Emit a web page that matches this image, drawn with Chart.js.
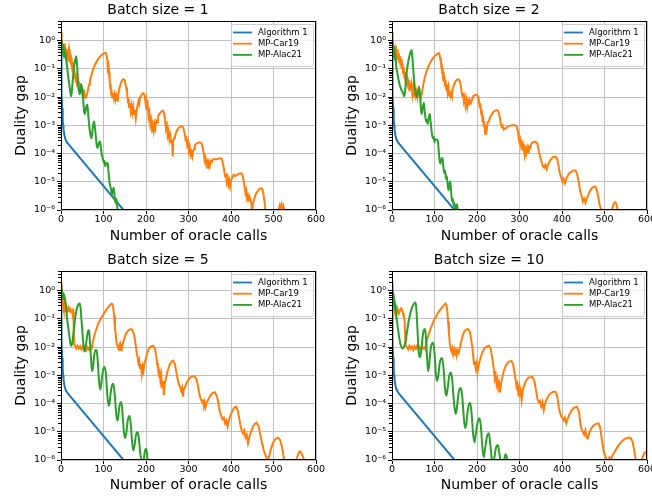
<!DOCTYPE html>
<html>
<head>
<meta charset="utf-8">
<script src="https://cdn.jsdelivr.net/npm/chart.js@4/dist/chart.umd.min.js"></script>
<style>
  body { margin: 0; background: #fff; overflow: hidden; }
  canvas { position: absolute; }
</style>
</head>
<body>
<canvas id="c1" width="326" height="248" style="left:0;top:0"></canvas>
<canvas id="c2" width="321" height="248" style="left:331px;top:0"></canvas>
<canvas id="c3" width="326" height="247" style="left:0;top:250px"></canvas>
<canvas id="c4" width="321" height="247" style="left:331px;top:250px"></canvas>
<script>
// values are [oracle calls, log10(duality gap)]
const batchSizes = [1, 2, 5, 10];
const seriesNames = ['Algorithm 1', 'MP-Car19', 'MP-Alac21'];
const xTicks = [0, 100, 200, 300, 400, 500, 600];
const yTicks = [1e-6, 1e-5, 1e-4, 1e-3, 1e-2, 1e-1, 1e0];

// Algorithm 1 looks the same in all four panels
const alg1Log = [[0,0.0],[0.5,-0.5],[1,-1.2],[2,-1.9],[3,-2.4],[4,-2.8],[5,-3.0],[6,-3.15],[8,-3.35],[10,-3.47],[12,-3.55],[15,-3.62],[150,-6.05]];

const car19LogB1 = [[0,0.3],[1,-0.1],[2,-0.4],[3,-0.15],[4,-0.5],[5,-0.2],[6,-0.55],[7,-0.3],[8,-0.1],[9,-0.45],[10,-0.25],[11,-0.6],[12,-0.3],[13,-0.55],[14,-0.35],[15,-0.6],[16,-0.4],[17,-0.7],[18,-0.45],[19,-0.3],[20,-0.5],[21,-0.35],[22,-0.75],[23,-0.5],[24,-0.85],[25,-0.6],[26,-0.95],[27,-0.75],[28,-1.1],[29,-0.9],[30,-1.25],[31,-1.05],[32,-1.35],[34,-1.15],[35,-1.5],[36,-1.3],[38,-1.6],[39,-1.35],[41,-1.7],[42,-1.45],[44,-1.75],[45,-1.5],[47,-1.85],[48,-1.6],[50,-1.9],[51,-1.7],[53,-1.95],[54,-1.75],[56,-2.0],[58,-2.03],[60,-1.95],[62,-1.85],[64,-1.7],[66,-1.55],[68,-1.42],[70,-1.3],[73,-1.15],[76,-1.0],[80,-0.85],[84,-0.74],[88,-0.64],[92,-0.56],[96,-0.5],[100,-0.46],[103,-0.44],[105,-0.43],[107,-0.5],[109,-0.7],
  [110,-0.95],[111,-0.9],[112,-1.2],[113,-1.1],[114,-1.45],[115,-1.35],[116,-1.7],[117,-1.55],[118,-1.9],[119,-1.75],[120,-2.0],[122,-1.85],[124,-2.05],[126,-1.9],[128,-2.1],[130,-1.95],[132,-2.12],[134,-1.95],[136,-1.8],[138,-1.65],[141,-1.5],[144,-1.4],[147,-1.36],[150,-1.4],[152,-1.55],[154,-1.75],[155,-1.65],[156,-1.95],[158,-2.2],[159,-2.05],[160,-2.35],[162,-2.2],[164,-2.5],[166,-2.3],[168,-2.55],[170,-2.35],[172,-2.6],[174,-2.45],[176,-2.75],[178,-2.5],[180,-2.3],[182,-2.15],[184,-2.25],[186,-2.0],[188,-1.95],[191,-1.88],[194,-1.86],[197,-1.95],[199,-2.2],[200,-2.1],[202,-2.45],[204,-2.3],[206,-2.7],[208,-2.55],[210,-2.95],[212,-2.8],[214,-3.25],[216,-3.0],[218,-3.2],[220,-2.95],[222,-3.1],[224,-2.85],[226,-2.9],[228,-2.7],[231,-2.6],[234,-2.55],[237,-2.5],[240,-2.48],[243,-2.6],[245,-2.85],[247,-3.1],[249,-3.0],[251,-3.35],[253,-3.2],[255,-3.5],[257,-3.35],[259,-3.6],[261,-3.5],[263,-4.1],[264,-3.55],[266,-3.45],[268,-3.4],[271,-3.25],[274,-3.15],[277,-3.08],[281,-3.04],[285,-3.03],[288,-3.1],[291,-3.3],[293,-3.5],[295,-3.45],[297,-3.7],[299,-3.6],[301,-3.9],[303,-3.8],[305,-4.05],[307,-3.95],[309,-4.1],[311,-3.9],[313,-3.85],[315,-3.7],[318,-3.65],[322,-3.62],[326,-3.6],[330,-3.62],[333,-3.75],[336,-4.0],[338,-4.25],[340,-4.15],[342,-4.4],[344,-4.3],[346,-4.5],[348,-4.35],[350,-4.45],[352,-4.25],[355,-4.3],[358,-4.2],[362,-4.2],[366,-4.2],[370,-4.18],[374,-4.17],[378,-4.18],[381,-4.35],[384,-4.6],[386,-4.8],[388,-4.7],[390,-5.0],[392,-4.85],[394,-5.1],[396,-4.95],[398,-5.15],[400,-4.95],[403,-4.85],[406,-4.75],[410,-4.8],[414,-4.75],[418,-4.72],[422,-4.7],[426,-4.72],[429,-4.9],[432,-5.2],[434,-5.4],[436,-5.3],[438,-5.6],[440,-5.5],[442,-5.7],[444,-5.55],[446,-5.65],[448,-5.8],[450,-6.05],[452,-5.75],[455,-5.6],[458,-5.45],[462,-5.35],[466,-5.26],[470,-5.23],[473,-5.25],[476,-5.4],[479,-5.7],[481,-6.0],[483,-6.2],[490,-6.5],[505,-6.4],[512,-6.0],[515,-5.82],[517,-5.9],[519,-5.8],[521,-5.95],[523,-5.85],[526,-6.0],[530,-6.2]];

const alac21LogB1 = [[0,0.3],[1,-0.25],[2,0.0],[3,-0.45],[4,-0.1],[5,-0.5],[6,-0.2],[7,-0.6],[8,-0.3],[9,-0.55],[10,-0.4],[12,-0.65],[14,-0.9],[16,-1.15],[18,-1.4],[20,-1.6],[22,-1.85],[24,-1.97],[26,-1.7],[28,-1.35],[30,-1.0],[32,-0.8],[34,-0.65],[36,-0.55],[38,-0.9],[40,-1.45],[42,-1.75],[44,-1.9],[46,-1.7],[48,-1.55],[50,-1.75],[52,-2.05],[54,-2.45],[56,-2.6],[58,-2.45],[60,-2.3],[62,-2.27],[64,-2.6],[66,-2.95],[68,-3.2],[70,-3.4],[72,-3.45],[74,-3.2],[76,-2.95],[78,-2.86],[80,-3.1],[82,-3.4],[84,-3.7],[86,-3.8],[88,-3.7],[90,-3.6],[92,-3.57],[94,-3.8],[96,-4.05],[98,-4.16],[100,-4.3],[102,-4.25],[104,-4.45],[106,-4.35],[108,-4.33],[110,-4.35],[112,-4.7],[114,-5.0],[116,-5.15],[118,-5.3],[120,-5.45],[122,-5.3],[124,-5.2],[126,-5.5],[128,-5.75],[130,-5.6],[132,-5.85],[134,-6.1],[136,-6.3]];

const car19LogB2 = [[0,0.3],[1,-0.3],[2,-0.05],[3,-0.5],[4,-0.2],[5,-0.55],[6,-0.3],[7,-0.45],[8,-0.2],[9,-0.6],[10,-0.35],[12,-0.55],[13,-0.3],[14,-0.7],[16,-0.45],[17,-0.8],[19,-0.55],[20,-0.9],[22,-0.65],[23,-1.0],[25,-0.8],[26,-1.15],[28,-0.95],[29,-1.35],[31,-1.1],[32,-1.5],[34,-1.2],[35,-1.6],[37,-1.3],[38,-1.7],[40,-1.4],[41,-1.8],[43,-1.5],[44,-1.75],[46,-1.55],[48,-1.9],[50,-1.65],[52,-1.95],[54,-1.7],[56,-1.95],[58,-1.8],[60,-2.0],[62,-1.75],[63,-1.6],[64,-1.95],[66,-2.0],[68,-2.02],[70,-1.9],[72,-1.7],[75,-1.45],[78,-1.25],[82,-1.05],[86,-0.9],[90,-0.78],[94,-0.67],[98,-0.58],[102,-0.52],[106,-0.47],[110,-0.44],[112,-0.5],[114,-0.7],[115,-0.6],[116,-0.95],[117,-0.8],[118,-1.15],[119,-0.95],[120,-1.3],[121,-1.1],[122,-1.45],[123,-1.25],[125,-1.6],[126,-1.4],[128,-1.75],[129,-1.55],[131,-1.85],[133,-1.65],[135,-1.95],[137,-2.0],[139,-1.85],[141,-1.95],[143,-1.7],[146,-1.55],[149,-1.45],[153,-1.38],[157,-1.37],[160,-1.45],[163,-1.7],[165,-1.95],[167,-1.85],[169,-2.15],[171,-2.0],[173,-2.3],[175,-2.1],[177,-2.35],[179,-2.15],[181,-2.3],[183,-2.1],[186,-2.2],[189,-2.05],[192,-1.95],[196,-1.92],[200,-1.91],[203,-2.0],[205,-2.2],[207,-2.4],[208,-2.25],[210,-2.6],[211,-2.45],[213,-2.85],[214,-2.65],[216,-3.05],[217,-2.85],[219,-3.3],[221,-3.0],[223,-3.15],[225,-2.9],[228,-2.85],[231,-2.7],[235,-2.6],[240,-2.5],[244,-2.47],[248,-2.46],[251,-2.55],[254,-2.75],[256,-2.95],[258,-3.05],[260,-3.0],[263,-3.15],[266,-3.1],[269,-3.1],[272,-3.05],[276,-3.02],[280,-3.0],[285,-2.99],[290,-3.0],[293,-3.02],[296,-3.2],[298,-3.45],[300,-3.6],[302,-3.5],[304,-3.75],[306,-3.65],[308,-3.9],[310,-3.75],[312,-4.05],[314,-3.85],[316,-4.0],[318,-3.8],[320,-3.95],[322,-3.75],[325,-3.8],[328,-3.65],[332,-3.6],[338,-3.58],[342,-3.65],[346,-3.95],[349,-4.15],[352,-4.3],[355,-4.45],[358,-4.5],[361,-4.4],[364,-4.55],[367,-4.4],[370,-4.3],[374,-4.2],[379,-4.12],[385,-4.11],[389,-4.2],[392,-4.45],[395,-4.7],[398,-4.85],[401,-5.0],[404,-4.9],[407,-5.05],[410,-4.9],[413,-4.8],[417,-4.7],[422,-4.65],[427,-4.6],[432,-4.6],[436,-4.75],[440,-5.05],[443,-5.35],[446,-5.5],[449,-5.7],[452,-5.6],[455,-5.75],[458,-5.6],[461,-5.5],[465,-5.35],[470,-5.22],[475,-5.18],[479,-5.18],[483,-5.35],[486,-5.6],[489,-5.85],[492,-5.95],[495,-6.0],[498,-6.1],[502,-6.4],[512,-6.3],[518,-5.95],[521,-5.8],[524,-5.72],[527,-5.75],[530,-5.9],[533,-6.1],[536,-6.3]];

const alac21LogB2 = [[0,0.3],[1,-0.3],[2,0.0],[3,-0.5],[4,-0.15],[5,-0.6],[6,-0.3],[7,-0.7],[8,-0.5],[10,-0.9],[12,-1.1],[15,-1.35],[18,-1.56],[21,-1.7],[24,-1.8],[27,-1.9],[29,-1.97],[31,-1.75],[34,-1.2],[37,-0.85],[40,-0.6],[43,-0.44],[46,-0.33],[48,-0.6],[50,-1.0],[52,-1.4],[55,-1.8],[58,-2.0],[60,-1.9],[62,-1.75],[64,-1.65],[66,-1.9],[68,-2.4],[70,-2.6],[72,-2.4],[75,-2.2],[77,-2.5],[80,-2.86],[82,-2.8],[84,-2.95],[86,-2.75],[89,-2.6],[91,-2.9],[94,-3.3],[96,-3.45],[98,-3.4],[100,-3.6],[102,-3.5],[105,-3.5],[108,-3.57],[110,-3.9],[112,-4.25],[114,-4.35],[116,-4.2],[119,-4.16],[121,-4.5],[123,-4.69],[125,-4.6],[127,-4.9],[129,-4.8],[131,-5.1],[133,-5.3],[135,-5.1],[137,-4.98],[139,-5.3],[141,-5.69],[143,-5.6],[145,-5.85],[147,-5.75],[149,-6.05],[151,-5.9],[153,-5.8],[155,-6.05],[157,-6.3]];

const car19LogB5 = [[0,0.3],[1,-0.3],[2,-0.1],[3,-0.5],[4,-0.25],[5,-0.6],[6,-0.4],[7,-0.7],[8,-0.55],[9,-0.75],[10,-0.6],[12,-0.7],[14,-0.62],[16,-0.72],[18,-0.6],[20,-0.7],[22,-0.65],[24,-0.75],[26,-0.7],[28,-0.8],[29,-0.75],[30,-1.3],[31,-1.9],[33,-1.95],[36,-2.05],[39,-1.95],[42,-2.05],[45,-1.97],[48,-2.08],[51,-1.98],[54,-2.05],[57,-1.95],[60,-2.1],[63,-2.0],[66,-2.08],[69,-2.0],[72,-2.05],[74,-1.9],[76,-1.75],[80,-1.5],[84,-1.33],[88,-1.15],[92,-1.04],[96,-0.92],[100,-0.83],[104,-0.73],[108,-0.65],[112,-0.56],[116,-0.5],[119,-0.46],[121,-0.47],[123,-0.6],[125,-0.9],[127,-1.3],[129,-1.6],[131,-1.87],[133,-1.95],[135,-2.05],[137,-1.95],[139,-2.1],[141,-1.95],[143,-2.05],[145,-1.9],[148,-1.75],[152,-1.55],[156,-1.45],[161,-1.38],[166,-1.36],[170,-1.45],[173,-1.65],[176,-1.95],[178,-2.2],[180,-2.35],[182,-2.55],[184,-2.45],[186,-2.75],[188,-2.6],[190,-2.95],[192,-2.7],[194,-2.85],[196,-2.6],[199,-2.45],[203,-2.2],[207,-2.05],[212,-1.97],[217,-1.95],[221,-2.05],[224,-2.3],[226,-2.55],[228,-2.75],[230,-2.95],[232,-2.85],[234,-3.2],[236,-3.0],[238,-3.45],[240,-3.2],[242,-3.7],[244,-3.3],[247,-3.1],[251,-2.85],[255,-2.65],[260,-2.52],[264,-2.48],[268,-2.6],[271,-2.85],[274,-3.1],[277,-3.3],[280,-3.4],[283,-3.55],[285,-3.45],[287,-3.75],[289,-3.5],[292,-3.4],[296,-3.25],[301,-3.12],[307,-3.05],[314,-3.02],[319,-3.15],[323,-3.45],[326,-3.7],[329,-3.85],[332,-3.95],[334,-3.85],[336,-4.1],[338,-3.95],[340,-4.13],[343,-3.95],[347,-3.85],[352,-3.7],[357,-3.62],[362,-3.6],[367,-3.75],[371,-4.05],[374,-4.3],[377,-4.45],[380,-4.55],[383,-4.5],[386,-4.7],[389,-4.6],[392,-4.82],[395,-4.6],[398,-4.45],[402,-4.3],[407,-4.15],[412,-4.11],[416,-4.25],[419,-4.5],[422,-4.75],[425,-4.95],[428,-5.05],[431,-4.95],[434,-5.2],[437,-5.1],[440,-5.41],[443,-5.2],[447,-5.0],[452,-4.8],[456,-4.72],[460,-4.68],[465,-4.8],[469,-5.1],[473,-5.4],[476,-5.6],[479,-5.75],[482,-5.85],[485,-6.0],[488,-5.95],[491,-5.8],[495,-5.55],[500,-5.35],[505,-5.25],[511,-5.21],[516,-5.3],[520,-5.55],[523,-5.8],[526,-6.05],[529,-6.4],[545,-6.5],[553,-6.0],[557,-5.85],[560,-5.72],[563,-5.7],[567,-5.8],[571,-5.95],[574,-6.1],[577,-6.4]];

const alac21LogB5 = [[0,0.3],[1,-0.1],[2,0.1],[3,-0.2],[4,-0.05],[5,-0.3],[6,-0.1],[8,-0.2],[10,-0.35],[12,-0.6],[14,-0.95],[17,-1.3],[20,-1.65],[23,-1.92],[25,-1.95],[27,-1.8],[30,-1.4],[33,-1.0],[37,-0.65],[41,-0.48],[44,-0.45],[46,-0.6],[48,-1.0],[51,-1.6],[54,-2.1],[56,-2.15],[58,-2.0],[61,-1.65],[64,-1.4],[66,-1.42],[68,-1.8],[71,-2.5],[73,-2.85],[75,-2.75],[78,-2.3],[81,-2.1],[84,-2.12],[86,-2.4],[89,-3.1],[92,-3.5],[94,-3.4],[97,-3.0],[100,-2.75],[103,-2.7],[106,-3.0],[109,-3.7],[112,-4.08],[114,-4.0],[117,-3.6],[120,-3.35],[123,-3.3],[126,-3.6],[129,-4.2],[132,-4.6],[134,-4.55],[137,-4.15],[140,-3.95],[142,-3.95],[145,-4.4],[148,-5.0],[151,-5.22],[154,-5.0],[157,-4.6],[161,-4.44],[164,-4.7],[167,-5.3],[170,-5.66],[173,-5.5],[176,-5.15],[180,-5.02],[183,-5.2],[186,-5.7],[189,-6.0],[192,-6.1],[195,-5.95],[198,-5.65],[201,-5.6],[203,-5.9],[205,-6.3]];

const car19LogB10 = [[0,0.3],[1,-0.35],[2,-0.1],[3,-0.55],[4,-0.3],[5,-0.65],[6,-0.4],[7,-0.75],[8,-0.55],[9,-0.8],[10,-0.7],[12,-0.78],[14,-0.7],[16,-0.8],[18,-0.72],[20,-0.65],[22,-0.62],[24,-0.7],[26,-0.8],[28,-0.95],[30,-1.1],[31,-1.6],[32,-1.95],[35,-2.0],[38,-2.08],[41,-1.95],[44,-2.05],[47,-1.98],[50,-2.1],[53,-1.97],[56,-2.05],[59,-1.95],[62,-2.08],[65,-2.0],[68,-2.1],[71,-1.98],[74,-2.05],[77,-2.0],[79,-2.08],[81,-1.85],[84,-1.65],[87,-1.51],[91,-1.33],[95,-1.18],[99,-1.04],[103,-0.93],[107,-0.82],[111,-0.72],[115,-0.64],[119,-0.57],[123,-0.5],[126,-0.45],[128,-0.5],[130,-0.7],[132,-1.1],[134,-1.5],[136,-1.85],[138,-2.04],[140,-2.15],[142,-2.05],[144,-2.25],[146,-2.1],[148,-2.3],[150,-2.15],[152,-2.3],[154,-2.1],[157,-2.2],[160,-2.0],[163,-1.8],[166,-1.6],[170,-1.45],[175,-1.37],[179,-1.36],[183,-1.45],[186,-1.7],[189,-2.0],[191,-2.3],[193,-2.6],[195,-2.5],[197,-2.75],[199,-2.6],[201,-2.9],[203,-2.7],[205,-2.55],[208,-2.4],[212,-2.2],[217,-2.05],[222,-1.98],[228,-1.95],[232,-2.05],[235,-2.3],[238,-2.6],[240,-2.85],[242,-3.1],[244,-3.0],[246,-3.3],[248,-3.15],[250,-3.45],[252,-3.3],[254,-3.6],[256,-3.35],[259,-3.1],[263,-2.85],[268,-2.65],[274,-2.52],[281,-2.49],[285,-2.6],[288,-2.9],[291,-3.15],[293,-3.4],[295,-3.3],[297,-3.6],[299,-3.45],[301,-3.75],[303,-3.55],[305,-3.87],[307,-3.6],[310,-3.4],[315,-3.2],[321,-3.08],[330,-3.05],[335,-3.2],[339,-3.55],[342,-3.8],[345,-3.95],[348,-3.9],[351,-4.1],[354,-3.95],[357,-4.23],[360,-4.0],[364,-3.85],[369,-3.7],[375,-3.62],[380,-3.58],[385,-3.58],[389,-3.75],[392,-4.1],[395,-4.3],[398,-4.45],[401,-4.5],[404,-4.6],[407,-4.5],[410,-4.7],[413,-4.55],[417,-4.4],[422,-4.25],[428,-4.15],[435,-4.11],[440,-4.3],[443,-4.7],[446,-4.9],[449,-5.0],[452,-5.1],[455,-4.95],[458,-5.2],[461,-5.23],[464,-5.05],[468,-4.9],[474,-4.78],[480,-4.72],[486,-4.7],[490,-4.85],[494,-5.3],[497,-5.6],[500,-5.8],[503,-5.9],[506,-6.0],[509,-6.05],[512,-5.9],[516,-5.95],[520,-5.8],[526,-5.65],[532,-5.5],[540,-5.35],[548,-5.25],[555,-5.21],[561,-5.21],[566,-5.35],[570,-5.65],[573,-5.95],[576,-6.2],[582,-6.4],[588,-6.0],[591,-5.85],[594,-5.75],[597,-5.72],[600,-5.75]];

const alac21LogB10 = [[0,0.3],[1,-0.2],[2,0.05],[3,-0.4],[4,-0.1],[5,-0.55],[6,-0.3],[7,-0.7],[8,-0.45],[10,-0.85],[12,-1.1],[15,-1.45],[18,-1.75],[21,-1.95],[25,-2.05],[28,-2.0],[31,-1.85],[35,-1.5],[39,-1.1],[43,-0.8],[47,-0.6],[51,-0.48],[55,-0.42],[57,-0.6],[59,-1.1],[61,-1.7],[63,-2.2],[66,-2.36],[69,-2.1],[72,-1.65],[75,-1.4],[78,-1.36],[80,-1.7],[83,-2.5],[85,-2.85],[87,-2.7],[90,-2.2],[93,-1.9],[97,-1.84],[100,-2.2],[103,-2.9],[106,-3.2],[109,-3.0],[112,-2.6],[115,-2.42],[118,-2.39],[121,-2.7],[125,-3.5],[128,-3.72],[131,-3.45],[135,-3.0],[139,-2.9],[142,-3.2],[146,-4.0],[150,-4.37],[153,-4.1],[157,-3.6],[162,-3.45],[165,-3.7],[169,-4.5],[172,-4.87],[175,-4.7],[179,-4.15],[184,-3.98],[187,-4.3],[191,-5.1],[194,-5.37],[197,-5.1],[201,-4.7],[206,-4.52],[209,-4.8],[213,-5.6],[216,-5.9],[219,-5.6],[223,-5.2],[228,-5.05],[231,-5.4],[235,-6.0],[238,-6.2],[241,-5.9],[245,-5.55],[249,-5.47],[252,-5.7],[256,-6.1],[260,-6.3],[264,-6.0],[267,-5.8],[270,-5.9],[274,-6.3]];

const car19Panels = [car19LogB1, car19LogB2, car19LogB5, car19LogB10];
const alac21Panels = [alac21LogB1, alac21LogB2, alac21LogB5, alac21LogB10];

const colors = ['#1f77b4', '#ff7f0e', '#2ca02c'];
const gridColor = '#c0c0c0';

Chart.defaults.font.family = 'DejaVu Sans';
Chart.defaults.color = '#000';

const pts = a => a.map(([x, e]) => ({ x: x, y: Math.pow(10, e) }));

const sup = { '-': '\u207b', '0': '\u2070', '1': '\u00b9', '2': '\u00b2', '3': '\u00b3', '4': '\u2074', '5': '\u2075', '6': '\u2076' };
function powLabel(v) {
  const e = Math.round(Math.log10(v));
  return '10' + String(e).split('').map(c => sup[c]).join('');
}

// spines, minor log ticks and the boxed legend, drawn like matplotlib
const decorPlugin = {
  id: 'decor',
  afterDatasetsDraw(chart) {
    const { ctx, chartArea: a } = chart;
    const ys = chart.scales.y;
    ctx.save();
    ctx.strokeStyle = '#000';
    ctx.lineWidth = 1;
    ctx.beginPath();
    for (let k = -6; k <= 0; k++) {
      for (let m = 2; m <= 9; m++) {
        const v = m * Math.pow(10, k);
        if (v > ys.max) continue;
        const y = Math.round(ys.getPixelForValue(v)) + 0.5;
        ctx.moveTo(a.left - 3, y);
        ctx.lineTo(a.left, y);
      }
    }
    ctx.stroke();
    ctx.strokeRect(Math.round(a.left) + 0.5, Math.round(a.top) + 0.5, Math.round(a.width) - 1, Math.round(a.height) - 1);

    const w = 82, h = 42;
    const x0 = a.right - 3 - w, y0 = a.top + 3;
    ctx.fillStyle = 'rgba(255,255,255,0.8)';
    ctx.strokeStyle = '#cccccc';
    ctx.beginPath();
    ctx.roundRect(x0 + 0.5, y0 + 0.5, w, h, 2);
    ctx.fill();
    ctx.stroke();
    ctx.font = '8.5px "DejaVu Sans"';
    ctx.textBaseline = 'middle';
    ctx.fillStyle = '#000';
    seriesNames.forEach((name, i) => {
      const yy = y0 + 8.5 + i * 11.2;
      ctx.strokeStyle = colors[i];
      ctx.lineWidth = 1.8;
      ctx.beginPath();
      ctx.moveTo(x0 + 2, yy);
      ctx.lineTo(x0 + 21, yy);
      ctx.stroke();
      ctx.fillText(name, x0 + 27, yy);
    });
    ctx.restore();
  }
};

function makeChart(id, idx, padRight, height) {
  const datasets = [
    { label: seriesNames[2], data: pts(alac21Panels[idx]), borderColor: colors[2], cubicInterpolationMode: 'monotone', order: 0 },
    { label: seriesNames[1], data: pts(car19Panels[idx]), borderColor: colors[1], order: 1 },
    { label: seriesNames[0], data: pts(alg1Log), borderColor: colors[0], order: 2 }
  ];
  datasets.forEach(d => { d.borderWidth = 2; d.pointRadius = 0; d.fill = false; });

  return new Chart(document.getElementById(id), {
    type: 'line',
    data: { datasets: datasets },
    options: {
      responsive: false,
      animation: false,
      layout: { padding: { left: 0, right: padRight, top: 0, bottom: 0 } },
      plugins: {
        legend: { display: false },
        tooltip: { enabled: false },
        title: {
          display: true,
          text: 'Batch size = ' + batchSizes[idx],
          font: { size: 14, weight: 'normal' },
          color: '#000',
          padding: { top: 1.6, bottom: 2.6 }
        }
      },
      scales: {
        x: {
          type: 'linear', min: 0, max: 600,
          afterBuildTicks: s => { s.ticks = xTicks.map(v => ({ value: v })); },
          ticks: { font: { size: 9.5 }, color: '#000', padding: 0, maxRotation: 0, autoSkip: false },
          grid: { color: gridColor, lineWidth: 1, tickColor: '#000', tickLength: 4 },
          border: { display: false },
          title: { display: true, text: 'Number of oracle calls', font: { size: 14 }, color: '#000', padding: { top: 0, bottom: 3.6 } },
          afterFit: s => { s.height = height - 210; s.paddingLeft = 0; s.paddingRight = 0; }
        },
        y: {
          type: 'logarithmic', min: 1e-6, max: 5,
          afterBuildTicks: s => { s.ticks = yTicks.map(v => ({ value: v })); },
          ticks: { font: { size: 9.5 }, color: '#000', padding: 2, autoSkip: false, callback: v => powLabel(v) },
          grid: { color: gridColor, lineWidth: 1, tickColor: '#000', tickLength: 4 },
          border: { display: false },
          title: { display: true, text: 'Duality gap', font: { size: 14 }, color: '#000', padding: { top: 12.6, bottom: 0 } },
          afterFit: s => { s.width = 61; s.paddingTop = 0; s.paddingBottom = 0; }
        }
      }
    },
    plugins: [decorPlugin]
  });
}

makeChart('c1', 0, 10, 248);
makeChart('c2', 1, 5, 248);
makeChart('c3', 2, 10, 247);
makeChart('c4', 3, 5, 247);
</script>
</body>
</html>
